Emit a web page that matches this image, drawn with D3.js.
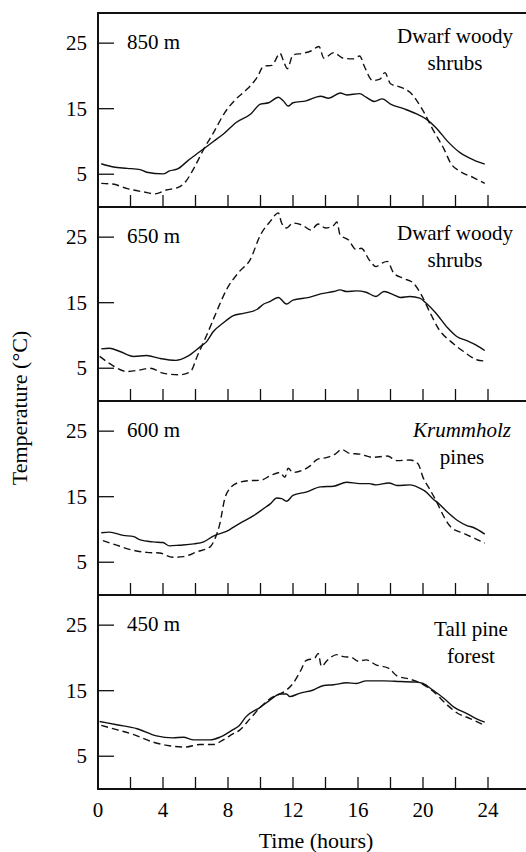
<!DOCTYPE html>
<html>
<head>
<meta charset="utf-8">
<script src="https://cdn.jsdelivr.net/npm/d3@7"></script>
<style>
    body { margin: 0; background: #fff; }
</style>
</head>
<body>
<svg id="chart"></svg>
<script>
// site elevations, top to bottom
var sites = ["850 m", "650 m", "600 m", "450 m"];
var vegetation = [
    [{ t: "Dwarf woody" }, { t: "shrubs" }],
    [{ t: "Dwarf woody" }, { t: "shrubs" }],
    [{ t: "Krummholz", italic: true }, { t: "pines" }],
    [{ t: "Tall pine" }, { t: "forest" }]
];
var xTicks = [0, 4, 8, 12, 16, 20, 24];
var xMinorTicks = [2, 4, 6, 8, 10, 12, 14, 16, 18, 20, 22, 24];
var yTicks = [5, 15, 25];

// [hour, temperature] - solid = first series, dashed = second series
var solid850 = [[0.2,6.6],[0.95,6.1],[1.8,5.9],[2.6,5.7],[3.0,5.3],[4.0,5.05],[4.4,5.5],[4.9,5.8],[5.5,7.0],[6.3,8.5],[7.1,10.0],[7.7,11.1],[8.5,12.9],[9.4,14.2],[10.0,15.7],[10.5,15.9],[11.1,16.75],[11.4,16.2],[11.7,15.4],[12.0,15.9],[12.8,16.2],[13.7,16.9],[14.2,16.6],[14.9,17.4],[15.3,17.1],[16.1,17.3],[16.5,16.75],[17.0,16.1],[17.5,16.5],[18.0,15.7],[18.8,15.0],[19.6,14.2],[20.2,13.4],[20.8,12.1],[21.5,10.05],[22.3,8.25],[23.1,7.2],[23.8,6.55]];
var dash850 = [[0.2,3.6],[0.9,3.5],[1.8,2.8],[2.8,2.3],[3.5,2.0],[4.2,2.6],[4.9,2.95],[5.4,3.9],[5.9,5.9],[6.5,8.8],[7.1,11.3],[7.8,14.4],[8.5,16.5],[9.1,17.8],[9.8,19.8],[10.2,21.5],[10.7,21.6],[11.2,23.45],[11.4,22.4],[11.65,21.1],[12.0,23.2],[12.6,23.45],[13.1,23.8],[13.6,24.5],[13.9,22.7],[14.5,23.55],[15.1,22.7],[15.7,22.6],[16.1,23.05],[16.4,21.4],[16.9,19.3],[17.35,19.5],[17.65,20.5],[18.0,18.8],[18.6,18.3],[19.2,17.5],[20.0,14.7],[20.6,11.85],[21.3,8.8],[21.7,6.7],[22.3,5.4],[23.1,4.5],[23.8,3.6]];

var solid650 = [[0.2,7.95],[0.7,8.05],[1.35,7.55],[2.2,6.8],[3.0,6.95],[3.8,6.5],[4.8,6.2],[5.5,6.8],[6.3,8.3],[6.7,9.1],[7.1,10.6],[7.7,11.9],[8.3,13.0],[9.0,13.4],[9.8,14.0],[10.2,14.8],[10.6,15.2],[11.1,15.8],[11.6,14.8],[12.0,15.4],[13.0,15.8],[13.7,16.35],[14.5,16.7],[14.9,16.95],[15.3,16.7],[15.9,16.8],[16.5,16.6],[17.1,15.95],[17.6,16.7],[18.2,16.2],[18.6,15.8],[19.2,15.95],[19.8,15.7],[20.2,14.9],[20.8,13.4],[21.5,11.2],[22.1,9.8],[22.7,9.2],[23.3,8.5],[23.8,7.7]];
var dash650 = [[0.1,6.8],[0.7,5.75],[1.8,4.5],[2.6,4.75],[3.2,5.0],[4.0,4.25],[5.0,4.0],[5.7,4.5],[6.1,6.8],[6.7,10.1],[7.3,13.65],[7.9,16.95],[8.7,19.75],[9.35,21.5],[10.0,25.35],[10.6,27.4],[11.1,28.7],[11.3,27.15],[11.6,26.4],[12.0,27.15],[12.6,26.8],[13.1,26.1],[13.55,27.0],[14.0,26.4],[14.5,26.8],[14.7,27.3],[14.9,25.35],[15.4,24.6],[15.9,23.1],[16.2,23.3],[16.7,21.5],[17.1,20.5],[17.45,21.0],[17.8,21.3],[18.2,19.5],[18.8,18.7],[19.4,18.0],[19.9,16.2],[20.4,13.65],[21.0,10.85],[21.7,9.1],[22.5,7.55],[23.3,6.3],[23.8,6.1]];

var solid600 = [[0.2,9.5],[0.7,9.6],[1.55,9.1],[2.2,8.9],[2.6,8.4],[3.4,8.1],[4.0,8.0],[4.4,7.5],[5.0,7.6],[5.9,7.8],[6.5,8.1],[7.1,9.0],[7.9,9.7],[8.7,10.9],[9.6,12.15],[10.2,13.2],[10.6,13.9],[11.0,14.8],[11.3,14.7],[11.6,14.3],[12.0,15.2],[12.8,15.7],[13.7,16.5],[14.5,16.6],[15.3,17.2],[16.1,17.0],[16.7,17.0],[17.1,16.8],[17.9,17.1],[18.4,16.7],[19.2,16.8],[19.8,16.3],[20.2,15.7],[20.6,14.7],[21.0,13.9],[21.5,12.65],[22.1,11.4],[22.7,10.6],[23.1,10.3],[23.8,9.3]];
var dash600 = [[0.3,8.3],[1.15,7.6],[2.2,6.8],[3.0,6.5],[3.8,6.4],[4.6,5.75],[5.25,5.85],[6.1,6.6],[6.9,7.35],[7.2,8.6],[7.5,10.9],[7.8,14.7],[8.1,16.2],[8.7,17.2],[9.35,17.45],[10.0,17.5],[10.6,18.2],[11.2,18.7],[11.5,17.95],[11.7,19.35],[12.0,18.7],[12.6,19.05],[13.05,19.7],[13.5,20.7],[14.1,21.0],[14.6,21.5],[15.0,22.2],[15.5,21.6],[16.1,21.5],[16.9,21.0],[17.8,21.2],[18.4,20.5],[19.2,20.6],[19.7,20.0],[20.0,17.95],[20.4,16.2],[20.8,14.4],[21.3,11.9],[21.7,10.4],[22.5,9.4],[23.3,8.5],[23.8,7.9]];

var solid450 = [[0.1,10.3],[1.15,9.8],[2.4,9.2],[3.6,8.1],[4.6,7.8],[5.25,7.9],[5.9,7.5],[6.9,7.5],[7.5,7.9],[8.3,9.05],[8.7,9.7],[9.1,11.0],[10.0,12.5],[10.6,13.6],[11.2,14.5],[11.6,14.5],[11.8,14.1],[12.4,14.6],[13.25,15.1],[13.9,15.8],[14.5,15.9],[15.3,16.2],[15.9,16.1],[16.5,16.5],[17.6,16.5],[18.6,16.4],[19.6,16.3],[20.0,16.1],[20.6,15.1],[21.3,13.8],[21.9,12.5],[22.7,11.5],[23.3,10.7],[23.8,10.2]];
var dash450 = [[0.2,9.7],[1.15,9.05],[2.2,8.3],[3.4,7.15],[4.4,6.6],[5.35,6.4],[6.3,6.8],[7.1,6.8],[7.7,7.5],[8.3,8.4],[8.7,8.95],[9.35,10.7],[10.0,12.5],[10.6,13.8],[11.2,14.5],[11.6,15.1],[12.0,16.1],[12.5,18.2],[12.8,19.6],[13.35,20.0],[13.55,20.7],[13.75,18.7],[14.1,19.6],[14.7,20.5],[15.1,20.2],[15.6,20.1],[16.0,19.5],[16.5,19.7],[17.1,18.95],[17.9,18.4],[18.4,17.25],[19.2,16.75],[19.8,16.2],[20.6,14.95],[21.5,12.8],[22.1,11.6],[22.9,10.75],[23.8,9.7]];

var solidSeries = [solid850, solid650, solid600, solid450];
var dashSeries = [dash850, dash650, dash600, dash450];

drawChart();

function drawChart() {
    var W = 526, H = 852;
    var left = 98, top = 13, panelH = 194;
    var fs = 21;
    var serif = "'Liberation Serif'";

    var svg = d3.select("#chart")
                    .attr("width", W)
                    .attr("height", H)
    ;

    var x = d3.scaleLinear()
        .domain([0, (W - left) / 16.25])
        .range([left, W]);

    var line = d3.line()
        .x(function(d){ return x(d[0]); })
        .y(function(d){ return d[1]; })
        .curve(d3.curveMonotoneX);

    // note positions inside each panel (layout only)
    var noteX = [455, 455, 462, 471];
    var noteDy = [0, 3, 6, 11];

    sites.forEach(function(site, i){
        var y0 = top + i * panelH;
        var y = d3.scaleLinear()
            .domain([0, 29.6])
            .range([y0 + panelH, y0]);

        var g = svg.append("g").attr("class", "panel");

        // top border of panel
        g.append("line")
            .attr("x1", left).attr("x2", W)
            .attr("y1", y0).attr("y2", y0)
            .attr("stroke", "#111").attr("stroke-width", 2)
        ;

        // y ticks pointing inward
        g.selectAll(".yt").data(yTicks).enter().append("line")
            .attr("x1", left).attr("x2", left + 16)
            .attr("y1", function(d){ return y(d); })
            .attr("y2", function(d){ return y(d); })
            .attr("stroke", "#111").attr("stroke-width", 1.3)
        ;
        g.selectAll(".yl").data(yTicks).enter().append("text")
            .attr("x", left - 11)
            .attr("y", function(d){ return y(d) + 7; })
            .attr("text-anchor", "end")
            .style("font-family", serif)
            .style("font-size", fs + "px")
            .text(function(d){ return d; })
        ;

        // x ticks pointing up from panel bottom
        g.selectAll(".xt").data(xMinorTicks).enter().append("line")
            .attr("x1", function(d){ return x(d); })
            .attr("x2", function(d){ return x(d); })
            .attr("y1", y0 + panelH).attr("y2", y0 + panelH - 12)
            .attr("stroke", "#111").attr("stroke-width", 1.3)
        ;

        g.append("path")
            .attr("d", line(solidSeries[i].map(function(p){ return [p[0], y(p[1])]; })))
            .attr("fill", "none").attr("stroke", "#111").attr("stroke-width", 1.4)
        ;
        g.append("path")
            .attr("d", line(dashSeries[i].map(function(p){ return [p[0], y(p[1])]; })))
            .attr("fill", "none").attr("stroke", "#111").attr("stroke-width", 1.4)
            .attr("stroke-dasharray", "7,4")
        ;

        g.append("text")
            .attr("x", left + 29)
            .attr("y", y(25) + 6)
            .style("font-family", serif)
            .style("font-size", fs + "px")
            .text(site)
        ;

        vegetation[i].forEach(function(ln, k){
            g.append("text")
                .attr("x", noteX[i])
                .attr("y", y(25) + noteDy[i] + k * 27)
                .attr("text-anchor", "middle")
                .style("font-family", serif)
                .style("font-size", fs + "px")
                .style("font-style", ln.italic ? "italic" : "normal")
                .text(ln.t)
            ;
        });
    });

    var bottom = top + sites.length * panelH;

    svg.append("line")
        .attr("x1", left).attr("x2", W)
        .attr("y1", bottom).attr("y2", bottom)
        .attr("stroke", "#111").attr("stroke-width", 2)
    ;
    svg.append("line")
        .attr("x1", left).attr("x2", left)
        .attr("y1", top - 1).attr("y2", bottom + 1)
        .attr("stroke", "#111").attr("stroke-width", 2)
    ;

    svg.selectAll(".xl").data(xTicks).enter().append("text")
        .attr("x", function(d){ return x(d); })
        .attr("y", bottom + 28)
        .attr("text-anchor", "middle")
        .style("font-family", serif)
        .style("font-size", fs + "px")
        .text(function(d){ return d; })
    ;

    svg.append("text")
        .attr("x", 316)
        .attr("y", bottom + 59)
        .attr("text-anchor", "middle")
        .style("font-family", serif)
        .style("font-size", "22px")
        .text("Time (hours)")
    ;

    svg.append("text")
        .attr("transform", "translate(27,408) rotate(-90)")
        .attr("text-anchor", "middle")
        .style("font-family", serif)
        .style("font-size", "22px")
        .text("Temperature (°C)")
    ;
}
</script>
</body>
</html>
